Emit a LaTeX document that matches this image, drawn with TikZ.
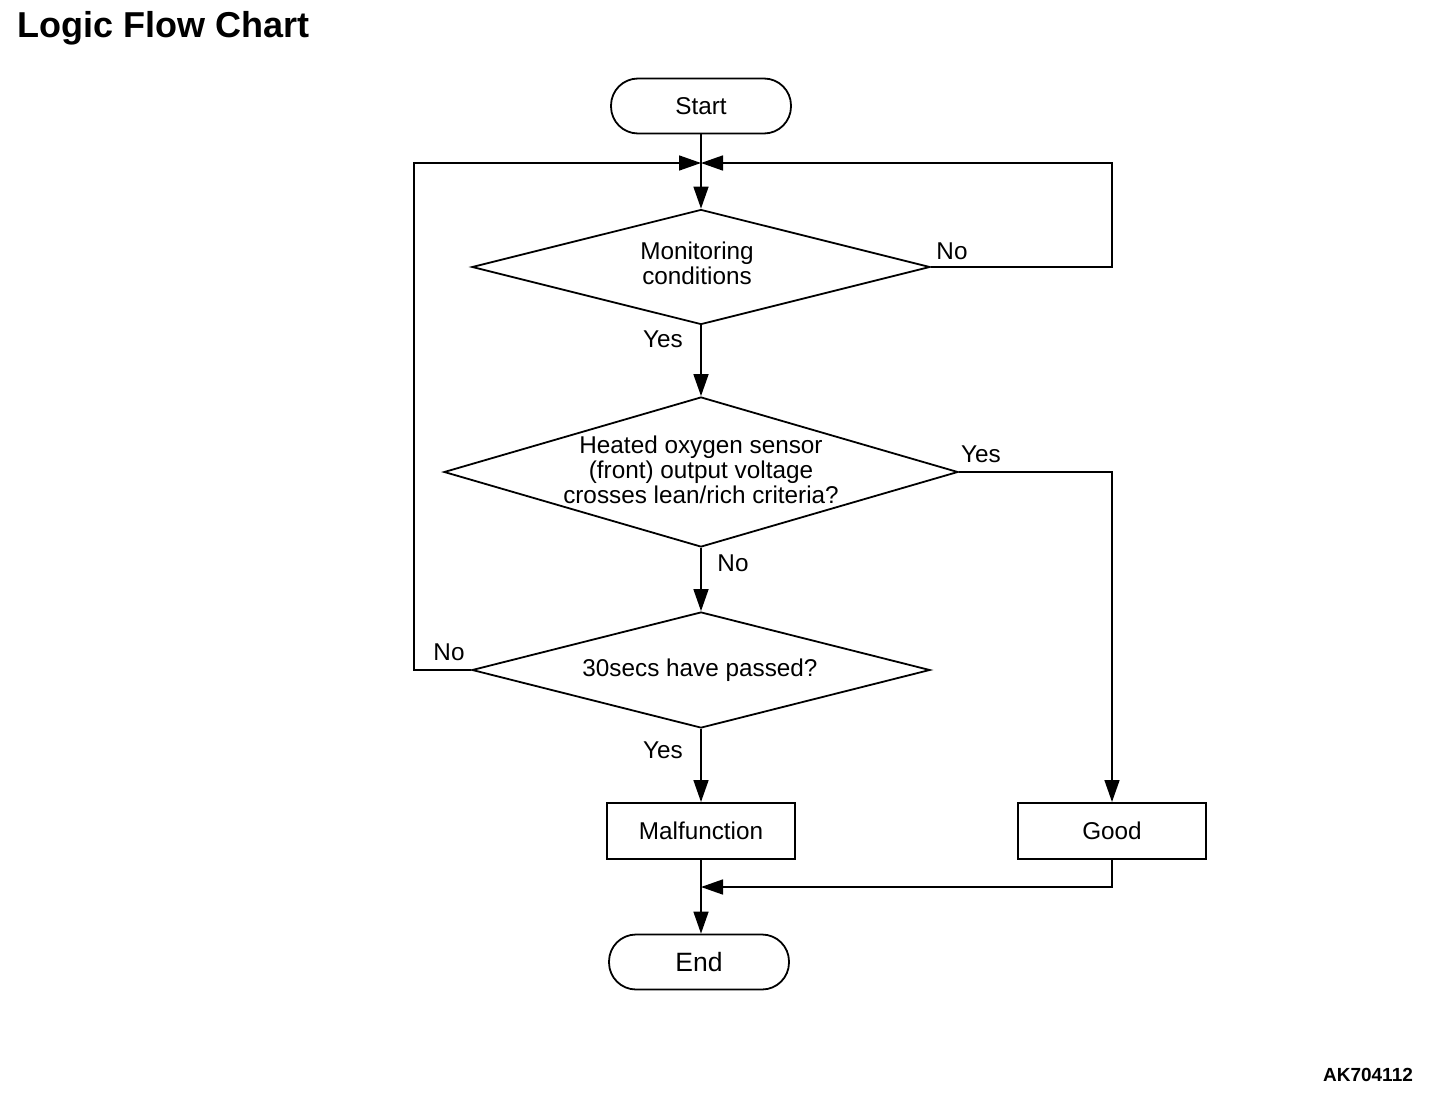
\documentclass[tikz,border=0pt]{standalone}
\usepackage{fontspec}
\setmainfont{Liberation Sans}
\usetikzlibrary{shapes.geometric,arrows.meta}
\begin{document}
\begin{tikzpicture}[x=1pt,y=-1pt,
  txtfont/.style={font=\fontsize{24.3}{25}\selectfont},
  box/.style={draw,line width=2pt,minimum width=188pt,minimum height=56pt,inner sep=0pt,txtfont},
  term/.style={draw,line width=1.8pt,rounded corners=27pt,minimum width=180pt,minimum height=55pt,inner sep=0pt,txtfont},
  dia/.style={draw,diamond,line width=1.8pt,inner sep=0pt},
  txt/.style={txtfont,align=center,inner sep=0pt},
  conn/.style={line width=1.6pt},
  arr/.style={conn,-{Triangle[length=22pt,width=15pt]}},
  lab/.style={txtfont,inner sep=0pt}]
\useasboundingbox (0,0) rectangle (1440,1100);

\node[anchor=west,font=\fontsize{36}{38}\selectfont\bfseries,inner sep=0pt] (title) at (17,28) {Logic Flow Chart};
\node[font=\fontsize{19}{21}\selectfont\bfseries,inner sep=0pt] (code) at (1368,1075) {AK704112};

\node[term] (start) at (701,106) {Start};
\node[dia,minimum width=458pt,minimum height=115pt] (d1) at (701,267) {};
\node[txt] (d1t) at (697,263) {Monitoring\\conditions};
\node[dia,minimum width=514pt,minimum height=150pt] (d2) at (701,472) {};
\node[txt] (d2t) at (701,470) {Heated oxygen sensor\\(front) output voltage\\crosses lean/rich criteria?};
\node[dia,minimum width=458pt,minimum height=116pt] (d3) at (701,670) {};
\node[txt] (d3t) at (700,670) {30secs have passed?};
\node[box] (malf) at (701,831) {Malfunction};
\node[box] (good) at (1112,831) {Good};
\node[term,font=\fontsize{26.5}{28}\selectfont] (end) at (699,962) {End};

\coordinate (j) at (701,163);
\coordinate (r1) at (1112,267);
\coordinate (l3) at (414,670);
\coordinate (m) at (701,887);

\draw[arr] (start.south) -- (d1.north);
\draw[arr] (d1.east) -- (r1) |- (j);
\draw[arr] (d3.west) -- (l3) |- (j);
\draw[arr] (d1.south) -- (d2.north);
\draw[arr] (d2.south) -- (d3.north);
\draw[arr] (d2.east) -| (good.north);
\draw[arr] (d3.south) -- (malf.north);
\draw[arr] (good.south) |- (m);
\draw[arr] (malf.south) -- (malf.south |- end.north);

\node[lab] (n1) at (952,251) {No};
\node[lab] (y1) at (663,339) {Yes};
\node[lab] (y2) at (981,454) {Yes};
\node[lab] (n2) at (733,563) {No};
\node[lab] (n3) at (449,652) {No};
\node[lab] (y3) at (663,750) {Yes};
\end{tikzpicture}
\end{document}
